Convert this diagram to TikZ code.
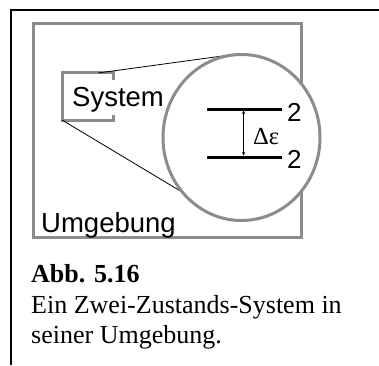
\documentclass[tikz,border=0pt]{standalone}
\usepackage{fontspec}
\setmainfont{Liberation Serif}
\newfontfamily\labelfont{Liberation Sans}
\newfontfamily\symfont{Liberation Serif}
\usetikzlibrary{shapes.geometric}
\begin{document}
\begin{tikzpicture}[x=1pt,y=-1pt,
  graybox/.style={draw=gray!90,line width=3pt},
  thinline/.style={draw=black,line width=0.8pt},
  levelline/.style={draw=black,line width=3pt},
  lbl/.style={font=\labelfont\fontsize{27.5}{29}\selectfont,inner sep=0pt,anchor=base west},
  digit/.style={font=\labelfont\fontsize{26}{28}\selectfont,inner sep=0pt,anchor=base west},
  captext/.style={font=\fontsize{26}{30}\selectfont,inner sep=0pt,anchor=base west}]
\useasboundingbox (0,0) rectangle (379,365);
% outer frame
\draw[line width=1.5pt] (11,365) -- (11,10) -- (379,10);
% environment box
\draw[graybox] (33,23) rectangle (301,237);
% system bracket
\coordinate (stl) at (62,72);
\coordinate (sbl) at (62,120);
\draw[graybox] (113,80) -- (113,72) -- (stl) -- (sbl) -- (113,120) -- (113,115);
% zoom lines
\coordinate (ztop) at (98,73);
\coordinate (ctop) at (237,54);
\coordinate (cbot) at (197,201);
\draw[thinline] (ztop) -- (ctop);
\draw[thinline] (sbl) -- (cbot);
% magnifier
\node[graybox,fill=white,ellipse,inner sep=0pt,minimum width=157pt,minimum height=166pt] (circ) at (241.5,137.5) {};
% levels
\coordinate (u1) at (207,109);
\coordinate (u2) at (282,109);
\coordinate (l1) at (207,157);
\coordinate (l2) at (282,157);
\draw[levelline] (u1) -- (u2);
\draw[levelline] (l1) -- (l2);
\coordinate (au) at (243.5,110.5);
\coordinate (al) at (243.5,155.5);
\draw[thinline,line width=0.6pt,<->,>=stealth] (au) -- (al);
\node[digit] (n2a) at (287,121.5) {2};
\node[digit] (n2b) at (287,168.5) {2};
\node[font=\symfont\fontsize{24.5}{26}\selectfont,inner sep=0pt,anchor=base west] (de) at (253,144) {Δε};
% labels
\node[lbl] (sys) at (72,106) {System};
\node[lbl] (umg) at (41,232) {Umgebung};
% caption
\node[captext] (cap1) at (31,282) {\textbf{Abb. 5.16}};
\node[captext] (cap2) at (31,313) {Ein Zwei-Zustands-System in};
\node[captext] (cap3) at (31,343) {seiner Umgebung.};
\end{tikzpicture}
\end{document}
